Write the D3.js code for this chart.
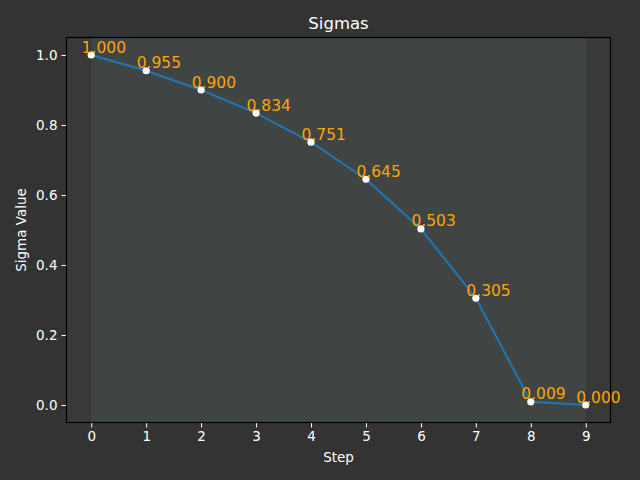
<!DOCTYPE html>
<html>
<head>
<meta charset="utf-8">
<script src="https://cdn.jsdelivr.net/npm/d3@7"></script>
<style>
  body { margin: 0; background: #333333; }
  svg { display: block; font-family: "DejaVu Sans", sans-serif; }
</style>
</head>
<body>
<svg id="svg1" width="640" height="480"></svg>
<script>
var steps = [0, 1, 2, 3, 4, 5, 6, 7, 8, 9];
var sigmas = [1.000, 0.955, 0.900, 0.834, 0.751, 0.645, 0.503, 0.305, 0.009, 0.000];
var xTicks = [0, 1, 2, 3, 4, 5, 6, 7, 8, 9];
var yTicks = [0.0, 0.2, 0.4, 0.6, 0.8, 1.0];

var marginLeft = 66.5, marginTop = 37.5, marginRight = 29.5, marginBottom = 57.5;
var width = 640, height = 480;

var svg = d3.select('#svg1');
svg.append('rect').attr('width', width).attr('height', height).attr('fill', '#333333');

var scaleX = d3.scaleLinear().domain([-0.45, 9.45]).range([marginLeft, width - marginRight]);
var scaleY = d3.scaleLinear().domain([-0.05, 1.05]).range([height - marginBottom, marginTop]);

// axes face
svg.append('rect')
    .attr('x', marginLeft).attr('y', marginTop)
    .attr('width', width - marginLeft - marginRight)
    .attr('height', height - marginTop - marginBottom)
    .attr('fill', '#393939');

// shaded span over the steps
svg.append('rect')
    .attr('x', scaleX(d3.min(steps))).attr('y', marginTop)
    .attr('width', scaleX(d3.max(steps)) - scaleX(d3.min(steps)))
    .attr('height', height - marginTop - marginBottom)
    .attr('fill', '#404443');

var xAxis = svg.append('g')
    .attr('transform', 'translate(0,' + (height - marginBottom) + ')')
    .call(d3.axisBottom(scaleX).tickValues(xTicks).tickFormat(d3.format('d')).tickSizeOuter(0).tickSize(5).tickPadding(4));

var yAxis = svg.append('g')
    .attr('transform', 'translate(' + marginLeft + ',0)')
    .call(d3.axisLeft(scaleY).tickValues(yTicks).tickFormat(d3.format('.1f')).tickSizeOuter(0).tickSize(5).tickPadding(4));

[xAxis, yAxis].forEach(function(a) {
    a.select('.domain').remove();
    a.selectAll('.tick line').attr('stroke', '#ffffff').attr('stroke-width', 1);
    a.selectAll('.tick text').attr('fill', '#ffffff').style('font-size', '13.5px').style('font-family', '"DejaVu Sans", sans-serif');
});

// spines
svg.append('rect')
    .attr('x', marginLeft).attr('y', marginTop)
    .attr('width', width - marginLeft - marginRight)
    .attr('height', height - marginTop - marginBottom)
    .attr('fill', 'none').attr('stroke', '#000000').attr('stroke-width', 1.2);

var line = d3.line()
    .x(function(d, i) { return scaleX(steps[i]); })
    .y(function(d) { return scaleY(d); });

svg.append('path')
    .datum(sigmas)
    .attr('d', line)
    .attr('fill', 'none')
    .attr('stroke', '#1f77b4')
    .attr('stroke-width', 2);

svg.selectAll('.pt')
    .data(sigmas)
    .enter().append('circle')
    .attr('class', 'pt')
    .attr('cx', function(d, i) { return scaleX(steps[i]); })
    .attr('cy', function(d) { return scaleY(d); })
    .attr('r', 3.6)
    .attr('fill', '#ffffff');

svg.selectAll('.lbl')
    .data(sigmas)
    .enter().append('text')
    .attr('class', 'lbl')
    .attr('x', function(d, i) { return scaleX(steps[i]) - 9.5; })
    .attr('y', function(d) { return scaleY(d) - 2.5; })
    .attr('fill', '#ffa500')
    .style('font-size', '15.5px')
    .text(function(d) { return d3.format('.3f')(d); });

svg.append('text')
    .attr('x', (marginLeft + width - marginRight) / 2)
    .attr('y', 29)
    .attr('text-anchor', 'middle')
    .attr('fill', '#ffffff')
    .style('font-size', '16.5px')
    .text('Sigmas');

svg.append('text')
    .attr('x', (marginLeft + width - marginRight) / 2)
    .attr('y', 462)
    .attr('text-anchor', 'middle')
    .attr('fill', '#ffffff')
    .style('font-size', '13.5px')
    .text('Step');

svg.append('text')
    .attr('transform', 'translate(26,' + ((marginTop + height - marginBottom) / 2) + ') rotate(-90)')
    .attr('text-anchor', 'middle')
    .attr('fill', '#ffffff')
    .style('font-size', '13.5px')
    .text('Sigma Value');
</script>
</body>
</html>
